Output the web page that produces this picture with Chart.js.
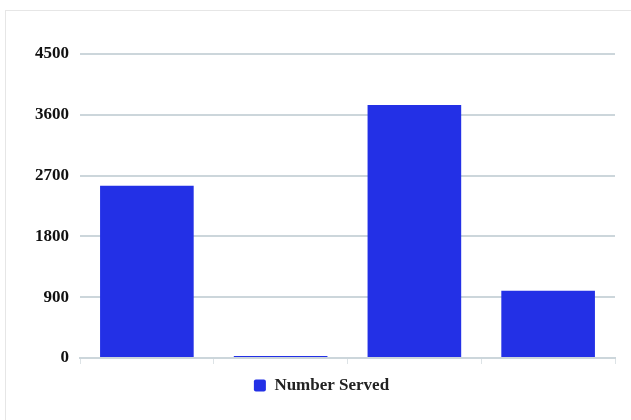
<!DOCTYPE html>
<html>
<head>
<meta charset="utf-8">
<script src="https://cdn.jsdelivr.net/npm/chart.js@4"></script>
<style>
  html, body { margin: 0; padding: 0; background: #fff; width: 631px; height: 420px; overflow: hidden; }
  #frame { position: absolute; left: 5px; top: 10px; width: 700px; height: 500px; border: 1px solid #e6e6e6; box-sizing: border-box; }
  #wrap { position: absolute; left: 6px; top: 11px; width: 625px; height: 409px; }
</style>
</head>
<body>
<div id="frame"></div>
<div id="wrap"><canvas id="c"></canvas></div>
<script>
const categories = ['', '', '', ''];
const seriesName = 'Number Served';
const numberServed = [2550, 30, 3745, 995];
const yTicks = [0, 900, 1800, 2700, 3600, 4500];

const barColor = '#2330e6';
const font = { family: '"Liberation Serif", "Times New Roman", serif', weight: 'bold', size: 17 };

new Chart(document.getElementById('c'), {
  type: 'bar',
  data: {
    labels: categories,
    datasets: [{
      label: seriesName,
      data: numberServed,
      backgroundColor: barColor,
      borderWidth: 0,
      categoryPercentage: 0.7,
      barPercentage: 1.0
    }]
  },
  options: {
    responsive: true,
    maintainAspectRatio: false,
    animation: false,
    layout: { padding: { left: 22, right: 16, top: 43, bottom: 16 } },
    plugins: {
      legend: {
        position: 'bottom',
        labels: {
          color: '#222',
          font: font,
          boxWidth: 12, boxHeight: 12, useBorderRadius: true, borderRadius: 2,
          padding: 10
        }
      },
      tooltip: { enabled: false }
    },
    scales: {
      x: {
        afterFit: (s) => { s.height = 9; },
        grid: { display: true, drawOnChartArea: false, drawTicks: true, tickLength: 6, color: '#dde3e6', offset: true },
        border: { display: true, color: '#ccd6db', width: 2 },
        ticks: { display: false }
      },
      y: {
        min: 0, max: 4500,
        afterBuildTicks: (s) => { s.ticks = yTicks.map(v => ({ value: v })); },
        afterFit: (s) => { s.width = 52; },
        grid: { color: '#ccd6db', lineWidth: 2, drawTicks: false },
        border: { display: false },
        ticks: { color: '#111', font: font, padding: 11, callback: (v) => String(v) }
      }
    }
  }
});
</script>
</body>
</html>
